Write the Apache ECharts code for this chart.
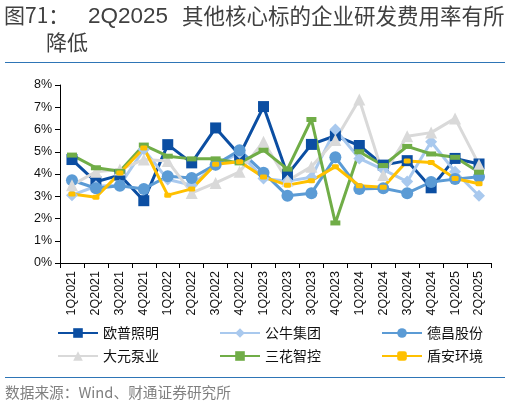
<!DOCTYPE html>
<html><head><meta charset="utf-8">
<script src="https://cdn.jsdelivr.net/npm/echarts@6/dist/echarts.min.js"></script>
<style>html,body{margin:0;padding:0;background:#fff}#c{width:510px;height:407px}</style>
</head><body><div id="c"></div>
<script>
var categories = ['1Q2021','2Q2021','3Q2021','4Q2021','1Q2022','2Q2022','3Q2022','4Q2022','1Q2023','2Q2023','3Q2023','4Q2023','1Q2024','2Q2024','3Q2024','4Q2024','1Q2025','2Q2025'];
var yTicks = [0,1,2,3,4,5,6,7,8];
var opu    = [4.65,3.65,3.95,2.8,5.32,4.5,6.07,4.85,7.03,3.97,5.33,5.72,5.28,4.4,4.6,3.38,4.7,4.45];
var gongniu= [3.05,3.45,3.5,5.1,3.75,3.5,4.4,4.95,3.8,3.68,3.85,6.0,4.7,4.2,3.66,5.45,4.1,3.02];
var dechang= [3.72,3.36,3.47,3.33,3.9,3.82,4.42,5.07,4.06,3.02,3.14,4.75,3.33,3.36,3.14,3.64,3.77,3.88];
var dayuan = [3.5,4.1,4.2,4.65,4.58,3.15,3.6,4.1,5.45,3.7,4.33,5.53,7.35,3.96,5.7,5.86,6.5,4.42];
var sanhua = [4.85,4.28,4.12,5.3,4.8,4.68,4.68,4.5,5.07,4.22,6.45,1.8,5.0,4.38,5.24,4.9,4.75,4.08];
var dunan  = [3.1,2.96,4.04,5.17,3.05,3.33,4.44,4.55,3.86,3.5,3.7,4.33,3.47,3.41,4.58,4.52,3.8,3.56];
var names  = ['欧普照明','公牛集团','德昌股份','大元泵业','三花智控','盾安环境'];

var chart = echarts.init(document.getElementById('c'), null, {renderer:'canvas'});
var FONT = '"Noto Sans CJK SC","Liberation Sans",sans-serif';
var LAT = '"Liberation Sans",Arial,sans-serif';
function mk(name, data, color, symbol, size){
  return {name:name, type:'line', data:data, symbol:symbol, symbolSize:size, showSymbol:true,
    lineStyle:{color:color, width:3}, itemStyle:{color:color}, animation:false};
}
function txt(x, y, s, size, color, font){
  return {type:'text', left:x, top:y, style:{text:s, fontSize:size, fill:color, fontFamily:font, textVerticalAlign:'top'}};
}
chart.setOption({
  animation:false,
  textStyle:{fontFamily:FONT},
  graphic:[
    txt(4, 5, '图71：', 21, '#404040', FONT),
    txt(88, 5, '2Q2025', 22.5, '#404040', LAT),
    txt(182, 5, '其他核心标的企业研发费用率有所', 21.5, '#404040', FONT),
    txt(46, 32, '降低', 21, '#404040', FONT),
    txt(5, 385, '数据来源：Wind、财通证券研究所', 14.7, '#808080', FONT),
    {type:'line', shape:{x1:5,y1:62.5,x2:505,y2:62.5}, style:{stroke:'#2E75B6', lineWidth:1.2}},
    {type:'line', shape:{x1:5,y1:377.5,x2:505,y2:377.5}, style:{stroke:'#2E75B6', lineWidth:1.2}}
  ],
  grid:{left:60, right:19, top:85, bottom:144, containLabel:false},
  xAxis:{type:'category', data:categories, boundaryGap:true,
    axisLine:{lineStyle:{color:'#000', width:1}},
    axisTick:{show:true, interval:0, length:5, lineStyle:{color:'#000'}},
    axisLabel:{interval:0, rotate:90, fontSize:12.5, color:'#111', margin:8, fontFamily:LAT}},
  yAxis:{type:'value', min:0, max:8, interval:1,
    axisLine:{show:true, lineStyle:{color:'#000', width:1}},
    axisTick:{show:true, length:5, lineStyle:{color:'#000'}},
    splitLine:{show:false},
    axisLabel:{formatter:function(v){return yTicks.indexOf(v)>=0 ? v+'%' : '';}, fontSize:12.5, color:'#111', margin:8, fontFamily:LAT}},
  legend:[
    {data:names.slice(0,3), left:52, top:321, itemWidth:40, itemHeight:12, itemGap:60,
     textStyle:{fontSize:14, color:'#111', fontFamily:FONT}},
    {data:names.slice(3,6), left:52, top:344, itemWidth:40, itemHeight:12, itemGap:60,
     textStyle:{fontSize:14, color:'#111', fontFamily:FONT}}
  ],
  series:[
    mk(names[0], opu, '#0B4EA2', 'rect', 11),
    mk(names[1], gongniu, '#A9C9EE', 'diamond', 12),
    mk(names[2], dechang, '#5B9BD5', 'circle', 12),
    mk(names[3], dayuan, '#D9D9D9', 'triangle', 12),
    mk(names[4], sanhua, '#70AD47', 'rect', [10,5]),
    mk(names[5], dunan, '#FFC000', 'roundRect', [7,5])
  ]
});
</script></body></html>
